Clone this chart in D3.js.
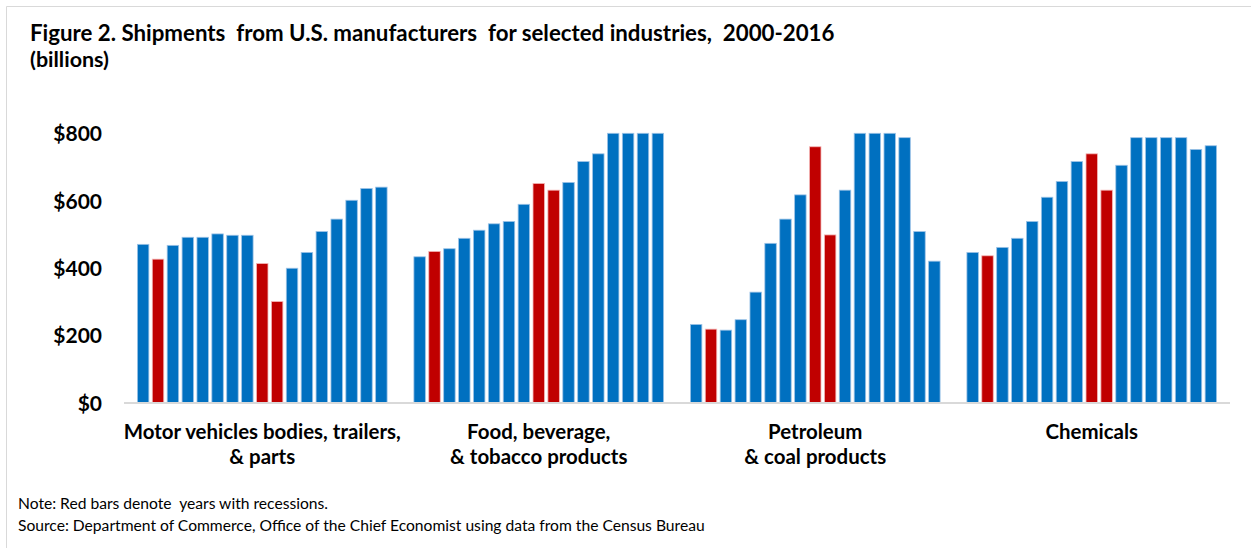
<!DOCTYPE html>
<html>
<head>
<meta charset="utf-8">
<script src="https://cdn.jsdelivr.net/npm/d3@7"></script>
<style>
  html, body { margin: 0; padding: 0; background: #fff; }
  svg text { font-family: Lato, "Open Sans", sans-serif; white-space: pre; fill: #000; }
</style>
</head>
<body>
<svg id="chart" width="1251" height="548"></svg>
<script>
const years = d3.range(2000, 2017);
const recessionYears = [2001, 2008, 2009];
const categories = ["motor", "food", "petroleum", "chemicals"];
const categoryLabels = [
  ["Motor vehicles bodies, trailers,", "& parts"],
  ["Food, beverage,", "& tobacco products"],
  ["Petroleum", "& coal products"],
  ["Chemicals"]
];
const motorValues = [470, 426, 467, 491, 491, 501, 497, 497, 413, 300, 399, 446, 508, 545, 601, 636, 640];
const foodValues = [433, 449, 457, 488, 512, 531, 538, 589, 651, 631, 654, 716, 739, 800, 800, 800, 800];
const petroleumValues = [232, 218, 215, 246, 328, 473, 545, 617, 760, 498, 631, 800, 800, 800, 787, 508, 420];
const chemicalsValues = [446, 436, 461, 488, 538, 610, 657, 716, 739, 631, 705, 787, 787, 787, 787, 752, 763];
const seriesValues = [motorValues, foodValues, petroleumValues, chemicalsValues];
const yTicks = [0, 200, 400, 600, 800];
const titleText = "Figure 2. Shipments  from U.S. manufacturers  for selected industries,  2000-2016";
const subtitleText = "(billions)";
const noteText = "Note: Red bars denote  years with recessions.";
const sourceText = "Source: Department of Commerce, Office of the Chief Economist using data from the Census Bureau";

const svg = d3.select("#chart");

function fitWidth(sel, target) {
  const base = +sel.attr("font-size");
  const w = sel.node().getComputedTextLength();
  if (w > 0) sel.attr("font-size", base * target / w);
}

// frame
svg.append("path").attr("d", "M6.5,548 L6.5,6.5 L1251,6.5")
  .attr("fill", "none").attr("stroke", "#d9d9d9").attr("stroke-width", 1);

const x0 = d3.scaleBand().domain(categories).range([124, 1230]).padding(0);
const x1 = d3.scaleBand().domain(years).range([0, x0.bandwidth()]).paddingInner(0.23).paddingOuter(0.9);
const y = d3.scaleLinear().domain([0, 800]).range([402.5, 133.3]);

// titles
const title = svg.append("text").attr("x", 30).attr("y", 41).attr("font-size", 20).attr("font-weight", 700).text(titleText);
fitWidth(title, 805);
const sub = svg.append("text").attr("x", 30).attr("y", 67).attr("font-size", 16).attr("font-weight", 700).text(subtitleText);
fitWidth(sub, 79);

// y axis labels
const yAxis = d3.axisLeft(y).tickValues(yTicks).tickSize(0).tickPadding(0).tickFormat(d => "$" + d);
const gy = svg.append("g").attr("transform", "translate(102,0)").call(yAxis);
gy.select(".domain").remove();
gy.selectAll("text").attr("font-size", 21).attr("font-weight", 700)
  .style("font-family", "Lato, 'Open Sans', sans-serif").attr("fill", "#000").attr("dy", "0.36em");

// bars
const groups = svg.append("g").selectAll("g").data(categories).join("g")
  .attr("transform", d => `translate(${x0(d)},0)`);
groups.selectAll("rect")
  .data((c, i) => years.map((yr, j) => ({ year: yr, value: seriesValues[i][j] })))
  .join("rect")
  .attr("x", d => x1(d.year))
  .attr("width", x1.bandwidth())
  .attr("y", d => y(d.value))
  .attr("height", d => y(0) - y(d.value))
  .attr("fill", d => recessionYears.includes(d.year) ? "#C00000" : "#0070C0")
  .attr("stroke", d => recessionYears.includes(d.year) ? "#F4B6B6" : "#9DC3E6")
  .attr("stroke-width", 0.8);

// baseline
svg.append("line").attr("x1", 124).attr("x2", 1230).attr("y1", y(0) + 0.5).attr("y2", y(0) + 0.5)
  .attr("stroke", "#d9d9d9").attr("stroke-width", 2);

// category labels
const catFont = 17.5 * 277 / 237;
categories.forEach((c, i) => {
  const cx = x0(c) + x0.bandwidth() / 2;
  const t = svg.append("text").attr("text-anchor", "middle").attr("font-size", catFont).attr("font-weight", 700);
  categoryLabels[i].forEach((line, k) => {
    t.append("tspan").attr("x", cx).attr("y", 439 + k * 25).text(line);
  });
});

// notes
const note = svg.append("text").attr("x", 18).attr("y", 509).attr("font-size", 13.5).text(noteText);
const src = svg.append("text").attr("x", 18).attr("y", 531).attr("font-size", 13.5).text(sourceText);
fitWidth(src, 687);
note.attr("font-size", src.attr("font-size"));
</script>
</body>
</html>
